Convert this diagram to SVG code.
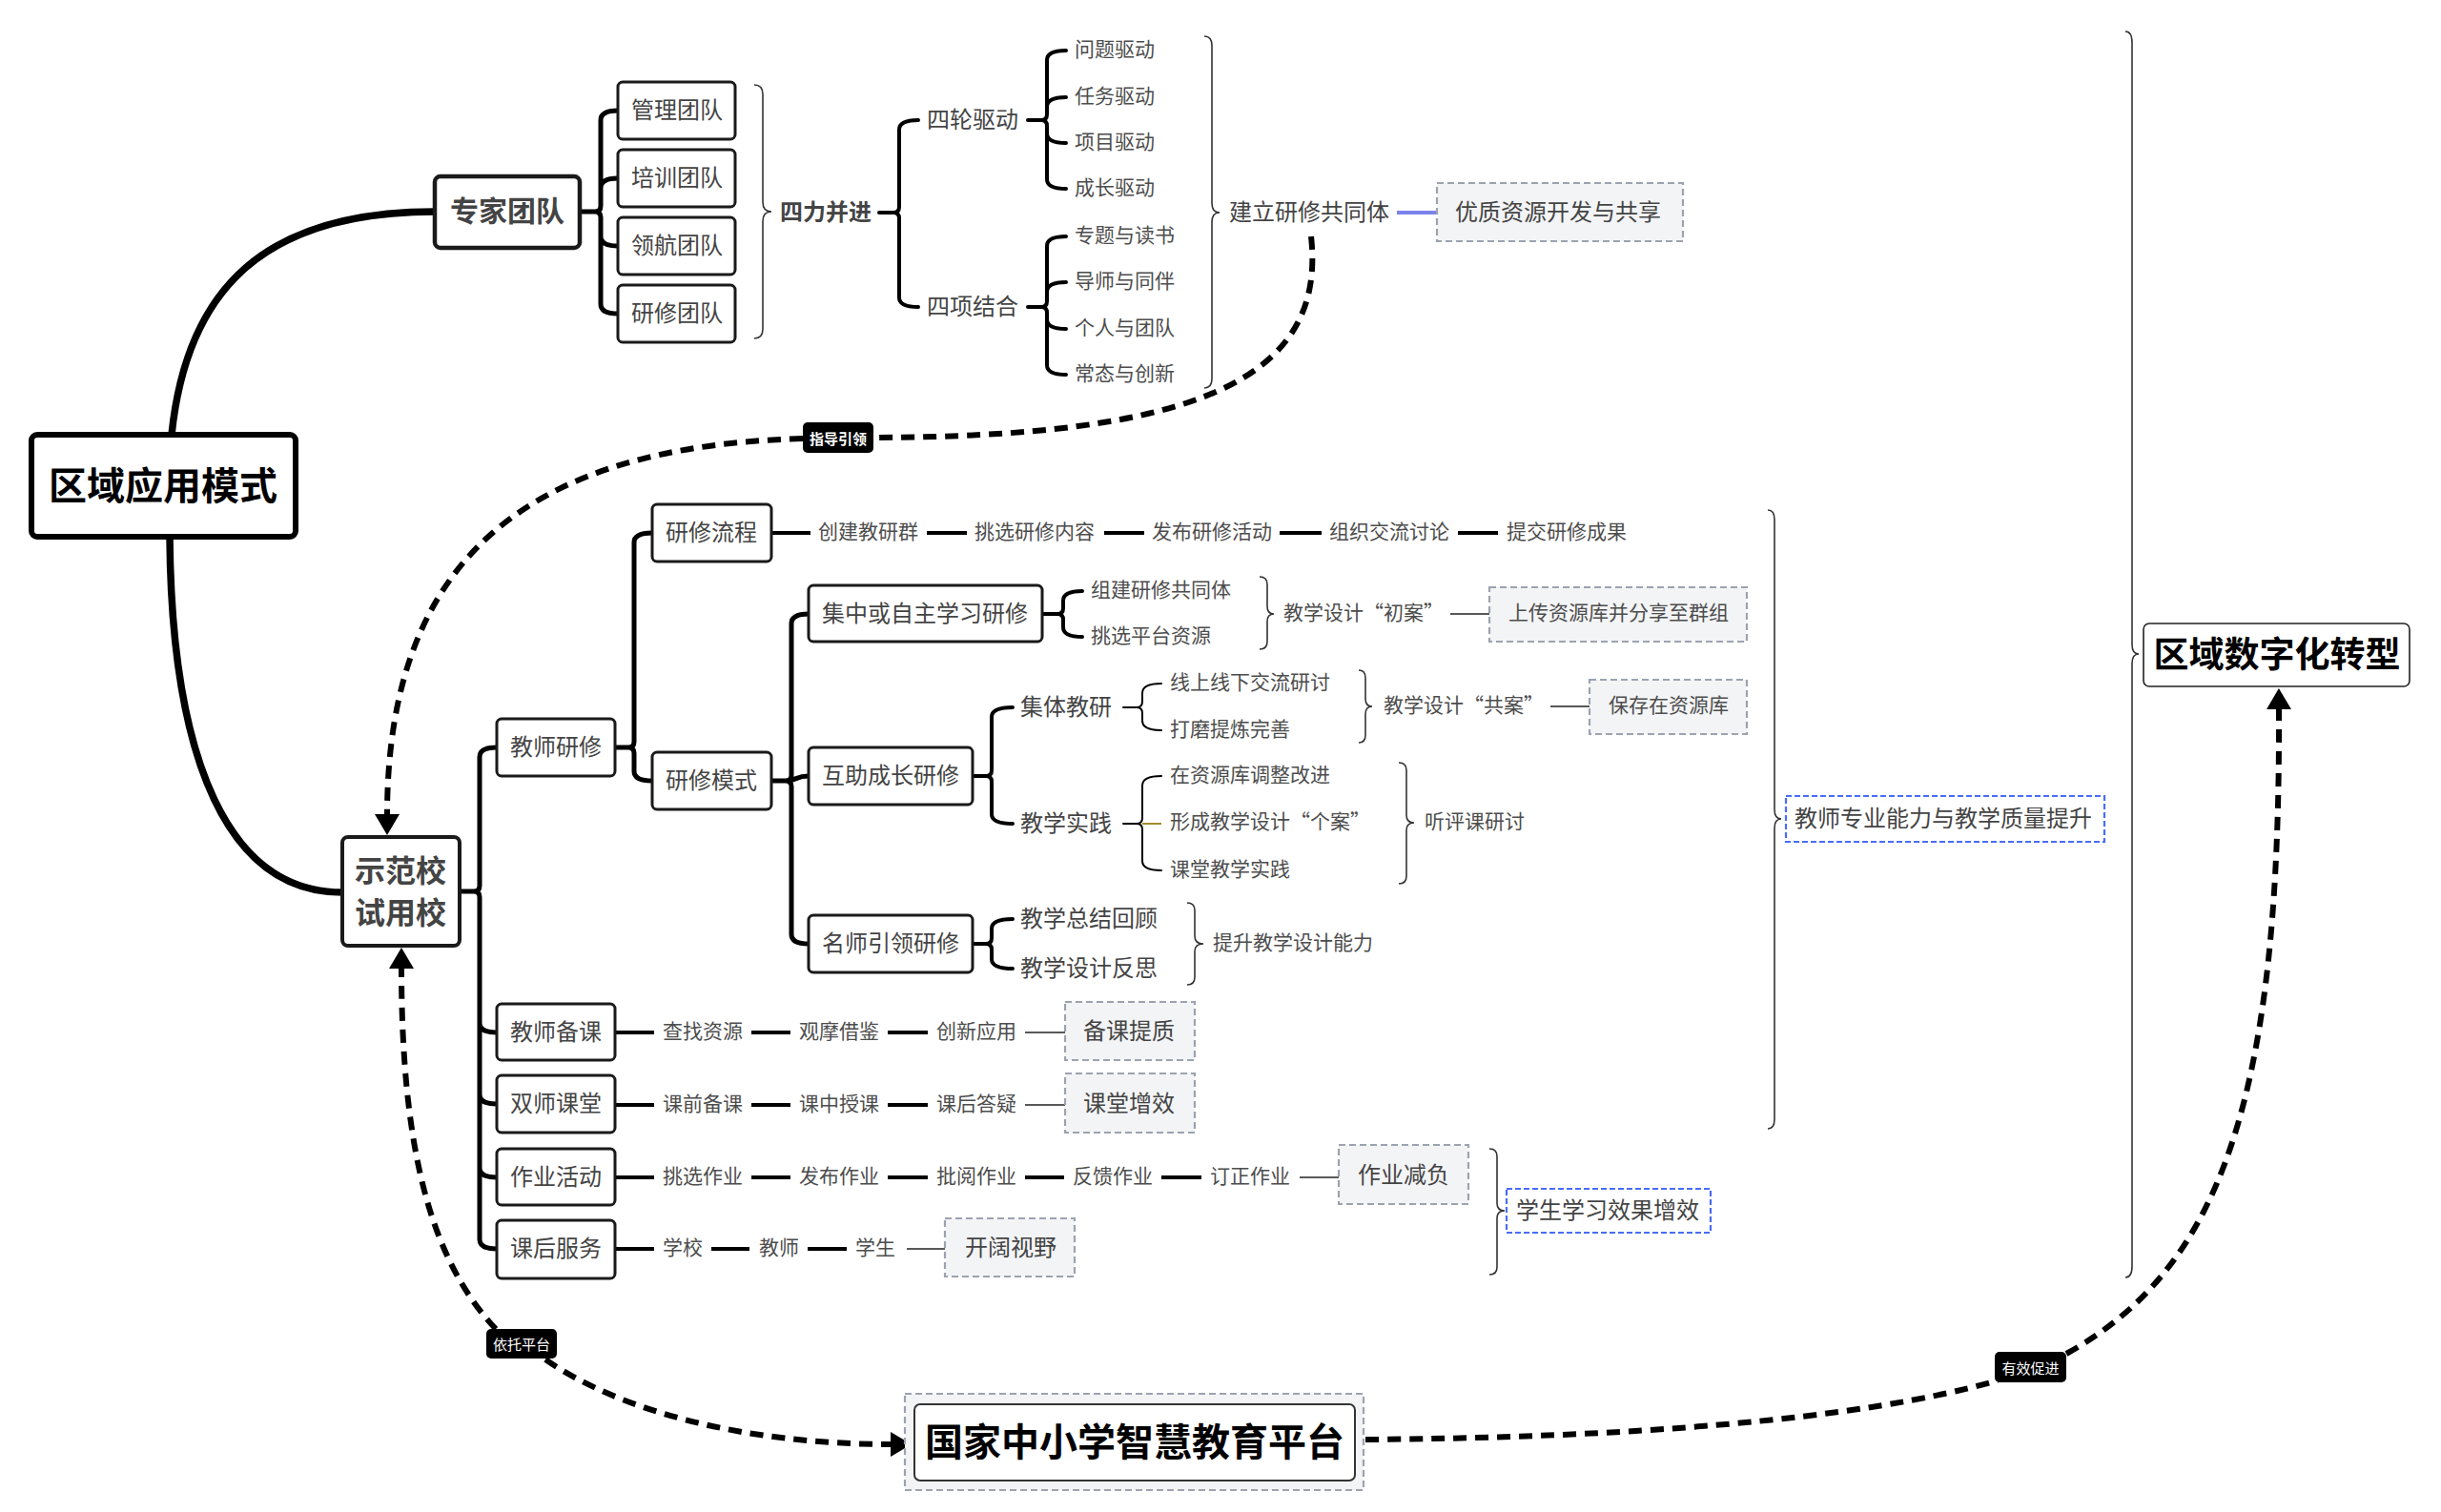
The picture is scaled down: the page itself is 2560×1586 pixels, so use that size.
<svg xmlns="http://www.w3.org/2000/svg" width="2560" height="1586" viewBox="0 0 2560 1586">
<style>
text{font-family:"Noto Sans CJK SC","Noto Sans",sans-serif;fill:#444;dominant-baseline:central;transform:translateY(-3px)}
.bx{fill:#fff;stroke:#1a1a1a;stroke-width:3}
.ct{text-anchor:middle}
.f24{font-size:24px}
.f21{font-size:21px;fill:#4d4d4d}
.hb{font-weight:bold;fill:#000}
.gd{fill:#f3f4f6;stroke:#9ca3af;stroke-width:2.2;stroke-dasharray:7 4}
.bd{fill:#fff;stroke:#4a6cf7;stroke-width:2.2;stroke-dasharray:6 3}
.br{fill:none;stroke:#333;stroke-width:1.6}
.k{fill:none;stroke:#000;stroke-linecap:round;stroke-linejoin:round}
.w5{stroke-width:5}
.w4{stroke-width:4}
.w2{stroke-width:2}
.sq{fill:none;stroke:#000;stroke-width:4}
.th{fill:none;stroke:#222;stroke-width:1.6}
.dsh{fill:none;stroke:#000;stroke-width:6;stroke-dasharray:14 9}
.lb{fill:#000}
.lt{fill:#fff;font-size:15px;font-weight:bold;text-anchor:middle}
</style>
<defs>
<marker id="ah" markerUnits="userSpaceOnUse" markerWidth="24" markerHeight="26" refX="2" refY="13" orient="auto">
<path d="M0,0 L22,13 L0,26 z" fill="#000"/>
</marker>
</defs>

<g id="connectors">
<path class="k" stroke-width="7.5" d="M180 456 C196 300 280 222 456 222"/>
<path class="k" stroke-width="7.5" d="M178 563 C180 800 240 936 359 936"/>
<path class="k w5" d="M608 222 H624 Q630 222 630 216 V126 Q630 116 648 116 M630 216 V197 Q630 187 648 187 M624 222 Q630 222 630 228 V248 Q630 258 648 258 M630 228 V319 Q630 329 648 329"/>
<path class="k w4" d="M922 223 H937 Q943 223 943 217 V136 Q943 126 963 126 M937 223 Q943 223 943 229 V312 Q943 322 963 322"/>
<path class="k w4" d="M1078 126 H1092 Q1098 126 1098 120 V63 Q1098 53 1118 53 M1098 120 V112 Q1098 102 1118 102 M1092 126 Q1098 126 1098 132 V140 Q1098 150 1118 150 M1098 132 V188 Q1098 198 1118 198"/>
<path class="k w4" d="M1078 322 H1092 Q1098 322 1098 316 V258 Q1098 248 1118 248 M1098 316 V306 Q1098 296 1118 296 M1092 322 Q1098 322 1098 328 V335 Q1098 345 1118 345 M1098 328 V383 Q1098 393 1118 393"/>
<path d="M1465 223 H1512" stroke="#7b83eb" stroke-width="4" fill="none"/>
<path class="k w5" d="M482 935 H497 Q503 935 503 929 V794 Q503 784 521 784 M497 935 Q503 935 503 941 V1073 Q503 1083 521 1083 M503 941 V1148 Q503 1158 521 1158 M503 941 V1225 Q503 1235 521 1235 M503 941 V1300 Q503 1310 521 1310"/>
<path class="k w5" d="M645 784 H659 Q665 784 665 778 V569 Q665 559 684 559 M659 784 Q665 784 665 790 V809 Q665 819 684 819"/>
<path class="k w5" d="M809 819 H824 Q830 819 830 813 V654 Q830 644 848 644 M824 819 C836 819 834 814 848 814 M824 819 Q830 819 830 825 V980 Q830 990 848 990"/>
<path class="k w4" d="M1093 644 H1109 Q1115 644 1115 638 V630 Q1115 620 1135 620 M1109 644 Q1115 644 1115 650 V658 Q1115 668 1135 668"/>
<path class="k w4" d="M1020 814 H1034 Q1040 814 1040 808 V752 Q1040 742 1062 742 M1034 814 Q1040 814 1040 820 V854 Q1040 864 1062 864"/>
<path class="k w4" d="M1020 990 H1034 Q1040 990 1040 984 V974 Q1040 964 1062 964 M1034 990 Q1040 990 1040 996 V1006 Q1040 1016 1062 1016"/>
<path class="k w2" d="M1178 742 H1192 Q1198 742 1198 736 V727 Q1198 717 1218 717 M1192 742 Q1198 742 1198 748 V756 Q1198 766 1218 766"/>
<path class="k w2" d="M1178 864 H1192 Q1198 864 1198 858 V824 Q1198 814 1218 814 M1192 864 Q1198 864 1198 870 V903 Q1198 913 1218 913"/>
<path d="M1198 864 H1218" stroke="#a08c2a" stroke-width="2" fill="none"/>
<path class="sq" d="M809 559 H850 M972 559 H1014 M1158 559 H1200 M1342 559 H1386 M1529 559 H1571"/>
<path class="th" d="M1521 644 H1573 M1626 741 H1677"/>
<path class="sq" d="M645 1083 H686 M788 1083 H829 M931 1083 H973"/>
<path class="th" d="M1075 1083 H1118"/>
<path class="sq" d="M645 1159 H686 M788 1159 H829 M931 1159 H973"/>
<path class="th" d="M1075 1159 H1118"/>
<path class="sq" d="M645 1235 H686 M788 1235 H829 M931 1235 H973 M1075 1235 H1116 M1218 1235 H1260"/>
<path class="th" d="M1363 1235 H1405"/>
<path class="sq" d="M645 1310 H686 M746 1310 H786 M847 1310 H888"/>
<path class="th" d="M951 1310 H992"/>
<path class="br" d="M791 89 Q800 89 800 99 V212 Q800 222 809 222 Q800 222 800 232 V345 Q800 355 791 355"/>
<path class="br" d="M1263 38 Q1271 38 1271 48 V213 Q1271 223 1279 223 Q1271 223 1271 233 V397 Q1271 407 1263 407"/>
<path class="br" d="M2229 33 Q2236 33 2236 45 V676 Q2236 686 2243 686 Q2236 686 2236 696 V1328 Q2236 1340 2229 1340"/>
<path class="br" d="M1321 605 Q1329 605 1329 613 V636 Q1329 644 1336 644 Q1329 644 1329 652 V673 Q1329 681 1321 681"/>
<path class="br" d="M1425 703 Q1432 703 1432 711 V733 Q1432 741 1439 741 Q1432 741 1432 749 V771 Q1432 779 1425 779"/>
<path class="br" d="M1467 800 Q1475 800 1475 808 V855 Q1475 863 1483 863 Q1475 863 1475 871 V919 Q1475 927 1467 927"/>
<path class="br" d="M1245 947 Q1253 947 1253 955 V982 Q1253 990 1262 990 Q1253 990 1253 998 V1025 Q1253 1033 1245 1033"/>
<path class="br" d="M1854 535 Q1861 535 1861 545 V849 Q1861 859 1868 859 Q1861 859 1861 869 V1174 Q1861 1184 1854 1184"/>
<path class="br" d="M1562 1205 Q1570 1205 1570 1213 V1262 Q1570 1270 1578 1270 Q1570 1270 1570 1278 V1329 Q1570 1337 1562 1337"/>
<path class="dsh" d="M1375 248 C1392 400 1250 458 916 459"/>
<path class="dsh" d="M842 460 C560 468 406 580 406 856" marker-end="url(#ah)"/>
<path class="dsh" d="M520 1394 C450 1320 421 1200 421 1014" marker-end="url(#ah)"/>
<path class="dsh" d="M572 1426 C650 1480 780 1515 936 1515" marker-end="url(#ah)"/>
<path class="dsh" d="M1432 1510 C1700 1508 1950 1490 2095 1448"/>
<path class="dsh" d="M2167 1420 C2330 1330 2392 1150 2390 742" marker-end="url(#ah)"/>
<g id="label-zhidao"><rect class="lb" x="842" y="443" width="74" height="32" rx="5"/><text class="lt" x="879" y="462">指导引领</text></g>
<g id="label-yituo"><rect class="lb" x="510" y="1394" width="74" height="31" rx="5"/><text class="lt" x="547" y="1412" style="font-weight:normal">依托平台</text></g>
<g id="label-youxiao"><rect class="lb" x="2092" y="1418" width="75" height="32" rx="5"/><text class="lt" x="2129.5" y="1437" style="font-weight:normal">有效促进</text></g>
</g>

<g id="root"><rect x="33" y="456" width="277" height="107" rx="6" fill="#fff" stroke="#000" stroke-width="6"/><text class="ct hb" x="171" y="510" font-size="40">区域应用模式</text></g>
<g id="zhuanjia"><rect x="456" y="185" width="152" height="75" rx="6" fill="#fff" stroke="#1a1a1a" stroke-width="4.5"/><text class="ct" x="532" y="222" font-size="30" font-weight="bold" fill="#333">专家团队</text></g>
<g id="guanli"><rect class="bx" x="648" y="86" width="123" height="60" rx="5"/><text class="ct f24" x="710" y="116">管理团队</text></g>
<g id="peixun"><rect class="bx" x="648" y="157" width="123" height="60" rx="5"/><text class="ct f24" x="710" y="187">培训团队</text></g>
<g id="linghang"><rect class="bx" x="648" y="228" width="123" height="60" rx="5"/><text class="ct f24" x="710" y="258">领航团队</text></g>
<g id="yanxiu-td"><rect class="bx" x="648" y="299" width="123" height="60" rx="5"/><text class="ct f24" x="710" y="329">研修团队</text></g>
<g id="silibingjin"><text x="818" y="223" font-size="24" font-weight="bold" fill="#333">四力并进</text></g>
<g id="silunqudong"><text class="f24" x="972" y="126">四轮驱动</text></g>
<g id="sixiangjiehe"><text class="f24" x="972" y="322">四项结合</text></g>
<g id="qudong-items">
<text class="f21" x="1127" y="53">问题驱动</text>
<text class="f21" x="1127" y="102">任务驱动</text>
<text class="f21" x="1127" y="150">项目驱动</text>
<text class="f21" x="1127" y="198">成长驱动</text>
</g>
<g id="jiehe-items">
<text class="f21" x="1127" y="248">专题与读书</text>
<text class="f21" x="1127" y="296">导师与同伴</text>
<text class="f21" x="1127" y="345">个人与团队</text>
<text class="f21" x="1127" y="393">常态与创新</text>
</g>
<g id="gongtongti"><text class="f24" x="1289" y="223">建立研修共同体</text></g>
<g id="youzhi"><rect class="gd" x="1507" y="192" width="258" height="61"/><text class="f24" x="1526" y="223">优质资源开发与共享</text></g>

<g id="shifanxiao"><rect x="359" y="878" width="123" height="114" rx="6" fill="#fff" stroke="#1a1a1a" stroke-width="4"/><text class="ct" x="420" y="914" font-size="32" font-weight="bold">示范校</text><text class="ct" x="420" y="958" font-size="32" font-weight="bold">试用校</text></g>
<g id="jiaoshiyanxiu"><rect class="bx" x="521" y="754" width="124" height="60" rx="5"/><text class="ct f24" x="583" y="784">教师研修</text></g>
<g id="yanxiuliucheng"><rect class="bx" x="684" y="529" width="125" height="60" rx="5"/><text class="ct f24" x="746" y="559">研修流程</text></g>
<g id="yanxiumoshi"><rect class="bx" x="684" y="789" width="125" height="60" rx="5"/><text class="ct f24" x="746" y="819">研修模式</text></g>
<g id="liucheng-items">
<text class="f21" x="858" y="559">创建教研群</text>
<text class="f21" x="1022" y="559">挑选研修内容</text>
<text class="f21" x="1208" y="559">发布研修活动</text>
<text class="f21" x="1394" y="559">组织交流讨论</text>
<text class="f21" x="1580" y="559">提交研修成果</text>
</g>
<g id="jizhong"><rect class="bx" x="848" y="614" width="245" height="59" rx="5"/><text class="ct f24" x="970" y="644">集中或自主学习研修</text></g>
<g id="jizhong-items">
<text class="f21" x="1144" y="620">组建研修共同体</text>
<text class="f21" x="1144" y="668">挑选平台资源</text>
<text class="f21" x="1346" y="644">教学设计“初案”</text>
</g>
<g id="shangchuan"><rect class="gd" x="1562" y="616" width="270" height="57"/><text class="f21" x="1582" y="644">上传资源库并分享至群组</text></g>
<g id="huzhu"><rect class="bx" x="848" y="784" width="172" height="60" rx="5"/><text class="ct f24" x="934" y="814">互助成长研修</text></g>
<g id="jitijiaoyan"><text class="f24" x="1070" y="742">集体教研</text></g>
<g id="jiaoxueshijian"><text class="f24" x="1070" y="864">教学实践</text></g>
<g id="jiti-items">
<text class="f21" x="1227" y="717">线上线下交流研讨</text>
<text class="f21" x="1227" y="766">打磨提炼完善</text>
<text class="f21" x="1451" y="741">教学设计“共案”</text>
</g>
<g id="baocun"><rect class="gd" x="1667" y="713" width="165" height="57"/><text class="f21" x="1687" y="741">保存在资源库</text></g>
<g id="shijian-items">
<text class="f21" x="1227" y="814">在资源库调整改进</text>
<text class="f21" x="1227" y="863">形成教学设计“个案”</text>
<text class="f21" x="1227" y="913">课堂教学实践</text>
<text class="f21" x="1494" y="863">听评课研讨</text>
</g>
<g id="mingshi"><rect class="bx" x="848" y="960" width="172" height="60" rx="5"/><text class="ct f24" x="934" y="990">名师引领研修</text></g>
<g id="mingshi-items">
<text class="f24" x="1070" y="964">教学总结回顾</text>
<text class="f24" x="1070" y="1016">教学设计反思</text>
<text class="f21" x="1272" y="990">提升教学设计能力</text>
</g>

<g id="beike"><rect class="bx" x="521" y="1053" width="124" height="59" rx="5"/><text class="ct f24" x="583" y="1083">教师备课</text></g>
<g id="beike-items">
<text class="f21" x="695" y="1083">查找资源</text>
<text class="f21" x="838" y="1083">观摩借鉴</text>
<text class="f21" x="982" y="1083">创新应用</text>
</g>
<g id="beiketizhi"><rect class="gd" x="1117" y="1051" width="136" height="61"/><text class="f24" x="1136" y="1082">备课提质</text></g>
<g id="shuangshi"><rect class="bx" x="521" y="1128" width="124" height="60" rx="5"/><text class="ct f24" x="583" y="1158">双师课堂</text></g>
<g id="shuangshi-items">
<text class="f21" x="695" y="1159">课前备课</text>
<text class="f21" x="838" y="1159">课中授课</text>
<text class="f21" x="982" y="1159">课后答疑</text>
</g>
<g id="ketangzengxiao"><rect class="gd" x="1117" y="1126" width="136" height="62"/><text class="f24" x="1136" y="1158">课堂增效</text></g>
<g id="zuoye"><rect class="bx" x="521" y="1205" width="124" height="59" rx="5"/><text class="ct f24" x="583" y="1235">作业活动</text></g>
<g id="zuoye-items">
<text class="f21" x="695" y="1235">挑选作业</text>
<text class="f21" x="838" y="1235">发布作业</text>
<text class="f21" x="982" y="1235">批阅作业</text>
<text class="f21" x="1125" y="1235">反馈作业</text>
<text class="f21" x="1269" y="1235">订正作业</text>
</g>
<g id="zuoyejianfu"><rect class="gd" x="1404" y="1201" width="136" height="62"/><text class="f24" x="1424" y="1233">作业减负</text></g>
<g id="kehou"><rect class="bx" x="521" y="1280" width="124" height="61" rx="5"/><text class="ct f24" x="583" y="1310">课后服务</text></g>
<g id="kehou-items">
<text class="f21" x="695" y="1310">学校</text>
<text class="f21" x="796" y="1310">教师</text>
<text class="f21" x="897" y="1310">学生</text>
</g>
<g id="kaikuo"><rect class="gd" x="991" y="1278" width="136" height="61"/><text class="f24" x="1012" y="1309">开阔视野</text></g>

<g id="xuesheng"><rect class="bd" x="1580" y="1247" width="214" height="46"/><text class="f24" x="1590" y="1270">学生学习效果增效</text></g>
<g id="jiaoshizhuanye"><rect class="bd" x="1873" y="835" width="334" height="48"/><text class="f24" x="1882" y="859">教师专业能力与教学质量提升</text></g>
<g id="shuzihua"><rect x="2248" y="654" width="279" height="66" rx="6" fill="#fff" stroke="#222" stroke-width="1.6"/><text class="ct hb" x="2388" y="687" font-size="37">区域数字化转型</text></g>
<g id="guojia"><rect class="gd" x="949" y="1462" width="481" height="101"/><rect x="959" y="1473" width="462" height="80" rx="6" fill="#fff" stroke="#333" stroke-width="2"/><text class="ct hb" x="1190" y="1513" font-size="40">国家中小学智慧教育平台</text></g>
</svg>
